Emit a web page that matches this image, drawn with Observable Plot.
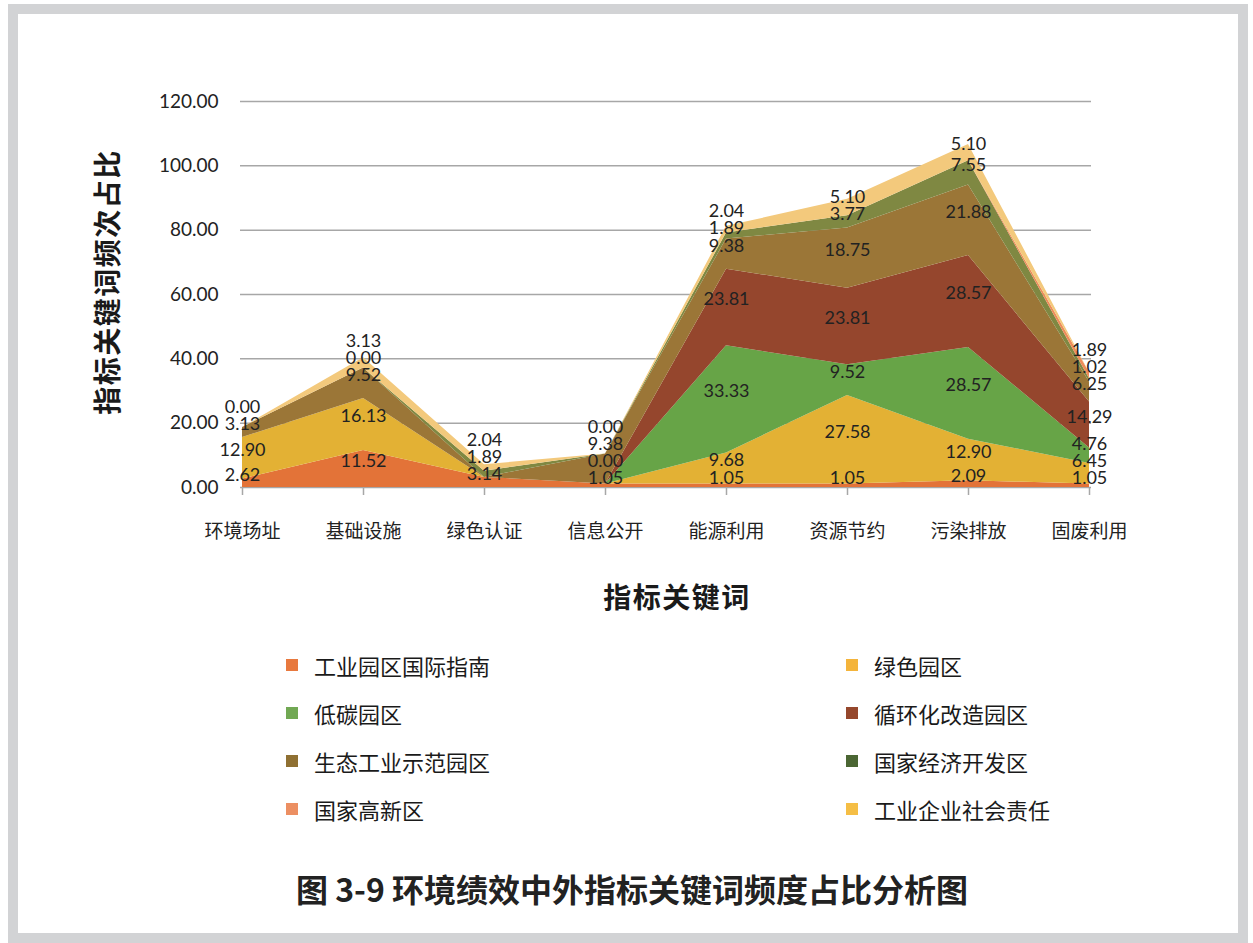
<!DOCTYPE html>
<html>
<head>
<meta charset="utf-8">
<script src="https://cdn.jsdelivr.net/npm/d3@7"></script>
<script src="https://cdn.jsdelivr.net/npm/@observablehq/plot@0.6"></script>
<style>
  html, body { margin: 0; padding: 0; background: #fff; }
  #wrap { position: relative; width: 1253px; height: 943px; overflow: hidden; background: #fff; }
  #frame { position: absolute; left: 8px; top: 4px; width: 1220px; height: 919px; border: 10px solid #D2D3D5; box-sizing: content-box; }
  #chart { position: absolute; left: 0; top: 0; }
  .cjk { font-family: "Noto Sans CJK SC", "Noto Sans", sans-serif; color: #1a1a1a; }
  #ytitle { position: absolute; left: 106px; top: 282px; transform: translate(-50%, -50%) rotate(-90deg); font-size: 28px; font-weight: bold; letter-spacing: 1.5px; white-space: nowrap; }
  #xtitle { position: absolute; left: 677px; top: 596px; transform: translate(-50%, -50%); font-size: 28px; font-weight: bold; letter-spacing: 1.5px; white-space: nowrap; }
  .leg { position: absolute; display: flex; align-items: center; font-size: 22px; white-space: nowrap; }
  .sw { width: 12px; height: 12px; margin-right: 16px; }
  #caption { position: absolute; left: 632px; top: 888px; transform: translate(-50%, -50%); font-size: 32px; font-weight: bold; white-space: nowrap; color: #222; }
</style>
</head>
<body>
<div id="wrap">
  <div id="frame"></div>
  <div id="chart"></div>
  <div id="ytitle" class="cjk"></div>
  <div id="xtitle" class="cjk"></div>
  <div id="legend"></div>
  <div id="caption" class="cjk"></div>
</div>
<script>
const categories = ["环境场址", "基础设施", "绿色认证", "信息公开", "能源利用", "资源节约", "污染排放", "固废利用"];
const seriesNames = ["工业园区国际指南", "绿色园区", "低碳园区", "循环化改造园区", "生态工业示范园区", "国家经济开发区", "国家高新区", "工业企业社会责任"];
const areaColors   = ["#E37338", "#E3B134", "#67A447", "#95462D", "#9B7637", "#7F8842", "#EE8C5A", "#F3C97C"];
const legendColors = ["#E8793E", "#F4B43B", "#71A853", "#95472C", "#8F7032", "#4B6633", "#EC8F62", "#F5BE45"];

const intlGuide       = [2.62, 11.52, 3.14, 1.05, 1.05, 1.05, 2.09, 1.05];
const greenPark       = [12.90, 16.13, null, null, 9.68, 27.58, 12.90, 6.45];
const lowCarbon       = [null, null, null, 0.00, 33.33, 9.52, 28.57, 4.76];
const circular        = [null, null, null, null, 23.81, 23.81, 28.57, 14.29];
const ecoIndustrial   = [3.13, 9.52, null, 9.38, 9.38, 18.75, 21.88, 6.25];
const nationalEconDev = [0.00, 0.00, 1.89, null, 1.89, 3.77, 7.55, 1.02];
const nationalHiTech  = [0.00, 0.00, null, null, null, null, null, 1.89];
const csr             = [0.00, 3.13, 2.04, 0.00, 2.04, 5.10, 5.10, null];

const yTicks = [0, 20, 40, 60, 80, 100, 120];

const yTitle = "指标关键词频次占比";
const xTitle = "指标关键词";
const captionText = "图 3-9 环境绩效中外指标关键词频度占比分析图";

const seriesValues = [intlGuide, greenPark, lowCarbon, circular, ecoIndustrial, nationalEconDev, nationalHiTech, csr];
const rows = [];
seriesNames.forEach((s, i) => {
  categories.forEach((c, j) => {
    const raw = seriesValues[i][j];
    rows.push({category: c, series: s, value: raw == null ? 0 : raw, raw});
  });
});

const W = 1253, H = 560;
const M = {left: 240, right: W - 1091, top: 101, bottom: H - 487};
const yScale = Plot.scale({y: {domain: [0, 120], range: [H - M.bottom, M.top]}});

// data labels: middle of each stacked band, nudged apart where they collide;
// identical labels at the same spot are drawn once
const labelGap = 17, labelLift = 8;
const labelRows = [];
categories.forEach((c, j) => {
  let cum = 0;
  const items = [];
  seriesNames.forEach((s, i) => {
    const raw = seriesValues[i][j];
    const v = raw == null ? 0 : raw;
    if (raw != null) items.push({category: c, text: raw.toFixed(2), natural: yScale.apply(cum + v / 2) - labelLift});
    cum += v;
  });
  items.sort((a, b) => b.natural - a.natural);
  let prev = null;
  for (const it of items) {
    if (prev && prev.text === it.text && Math.abs(prev.natural - it.natural) < 0.5) continue;
    it.pos = prev ? Math.min(it.natural, prev.pos - labelGap) : it.natural;
    prev = it;
    labelRows.push({category: it.category, text: it.text, y: yScale.invert(it.pos)});
  }
});

const chart = Plot.plot({
  width: W,
  height: H,
  marginLeft: M.left,
  marginRight: M.right,
  marginTop: M.top,
  marginBottom: M.bottom,
  style: {background: "transparent", overflow: "visible"},
  x: {type: "point", domain: categories, padding: 0},
  y: {domain: [0, 120]},
  color: {domain: seriesNames, range: areaColors},
  marks: [
    Plot.ruleY(yTicks, {stroke: "#A7A7A7", strokeWidth: 1.5}),
    Plot.areaY(rows, {x: "category", y: "value", z: "series", fill: "series", order: seriesNames}),
    Plot.axisY({ticks: yTicks, tickFormat: d3.format(".2f"), tickSize: 0, tickPadding: 22, fontSize: 19, fontFamily: "Lato, 'Open Sans', sans-serif", fill: "#222", label: null}),
    Plot.axisX({tickSize: 8, tickPadding: 29, stroke: "#A7A7A7", strokeWidth: 1.5, fontSize: 19, fontFamily: "'Noto Sans CJK SC', sans-serif", fill: "#222", label: null}),
    Plot.text(labelRows, {x: "category", y: "y", text: "text", fill: "#222", fontSize: 18, fontFamily: "Lato, 'Open Sans', sans-serif"})
  ]
});
document.getElementById("chart").appendChild(chart);

document.getElementById("ytitle").textContent = yTitle;
document.getElementById("xtitle").textContent = xTitle;
document.getElementById("caption").textContent = captionText;

const legend = document.getElementById("legend");
const legX = [286, 846], legY = [665, 713, 761, 809];
seriesNames.forEach((s, i) => {
  const el = document.createElement("div");
  el.className = "leg cjk";
  el.style.left = legX[i % 2] + "px";
  el.style.top = (legY[Math.floor(i / 2)] - 16) + "px";
  el.style.height = "32px";
  const sw = document.createElement("div");
  sw.className = "sw";
  sw.style.background = legendColors[i];
  const t = document.createElement("span");
  t.textContent = s;
  el.appendChild(sw);
  el.appendChild(t);
  legend.appendChild(el);
});
</script>
</body>
</html>
